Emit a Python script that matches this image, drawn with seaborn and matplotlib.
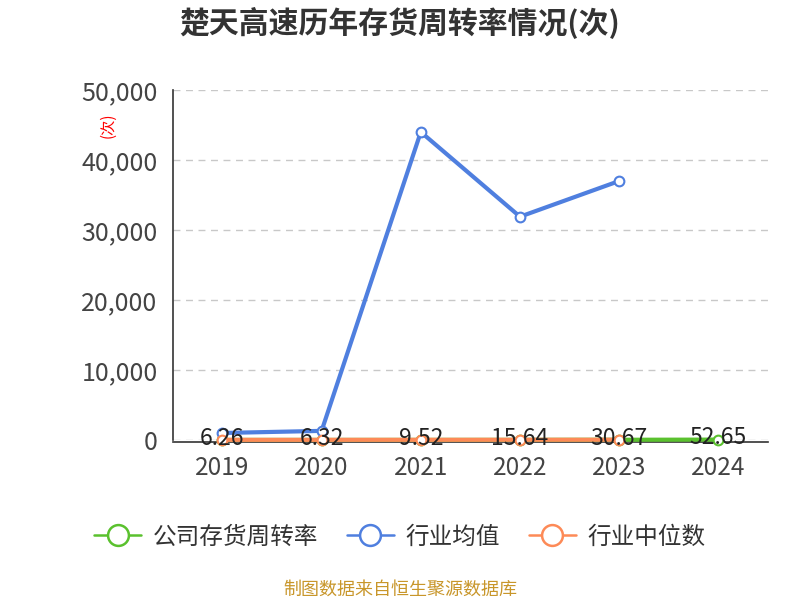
import matplotlib
matplotlib.use("Agg")
import matplotlib.pyplot as plt
import seaborn as sns
import pandas as pd
import numpy as np
from matplotlib.lines import Line2D

years = ["2019", "2020", "2021", "2022", "2023", "2024"]
company = [6.26, 6.32, 9.52, 15.64, 30.67, 52.65]
industry_avg = [1000, 1300, 44000, 31900, 37000, np.nan]
industry_median = [20, 22, 25, 30, 35, np.nan]
labels = ["6.26", "6.32", "9.52", "15.64", "30.67", "52.65"]
yticks = [0, 10000, 20000, 30000, 40000, 50000]

sns.set_theme(style="white")
plt.rcParams['font.family'] = ['Noto Sans CJK SC', 'DejaVu Sans']

green = "#5ac12e"
blue = "#4f7fdf"
orange = "#fd8a57"

fig = plt.figure(figsize=(8, 6), dpi=100)
ax = fig.add_axes([0.216, 0.2667, 0.744, 0.5833])

df = pd.DataFrame({"year": years, "company": company,
                   "avg": industry_avg, "median": industry_median})

for col, c, z in [("company", green, 3), ("avg", blue, 4), ("median", orange, 5)]:
    sns.lineplot(data=df, x="year", y=col, ax=ax, color=c, linewidth=3,
                 marker="o", markersize=7, markerfacecolor="white",
                 markeredgecolor=c, markeredgewidth=1.5, zorder=z, legend=False)
for ln in ax.lines:
    ln.set_clip_on(False)

for i, (v, t) in enumerate(zip(company, labels)):
    ax.text(i, v + 250, t, ha="center", va="center", fontsize=16.5,
            color="#222222", zorder=10)

ax.spines["bottom"].set_position(("outward", 1.5))
for s in ["top", "right"]:
    ax.spines[s].set_visible(False)
for s in ["left", "bottom"]:
    ax.spines[s].set_color("#333333")
    ax.spines[s].set_linewidth(1.2)
    ax.spines[s].set_zorder(2)

ax.set_xlim(-0.5, 5.5)
ax.set_ylim(0, 50000)
ax.set_yticks(yticks)
ax.set_yticklabels([f"{v:,}" for v in yticks], fontsize=18, color="#444444")
ax.set_xticks(range(len(years)))
ax.set_xticklabels(years, fontsize=17.5, color="#444444")
ax.set_xticks(np.arange(-0.5, 6.0, 1.0), minor=True)
ax.tick_params(axis="x", which="major", length=0, pad=9)
ax.tick_params(axis="x", which="minor", length=8, width=1.2, color="#333333", direction="out")
ax.tick_params(axis="y", length=7, width=1.2, color="#333333", direction="out", pad=4)
ax.set_xlabel("")
ax.set_ylabel("(次)", color="red", fontsize=11, rotation=90)
ax.yaxis.set_label_coords(-0.095, 0.9)

ax.grid(axis="y", linestyle=(0, (5, 4)), color="#c8c8c8", linewidth=1)

fig.text(0.5, 0.962, "楚天高速历年存货周转率情况(次)", ha="center", va="center",
         fontsize=21.5, fontweight="bold", color="#333333")

handles = [Line2D([0], [0], color=c, linewidth=1.8, marker="o", markersize=15,
                  markerfacecolor="white", markeredgecolor=c, markeredgewidth=1.8)
           for c in [green, blue, orange]]
fig.legend(handles, ["公司存货周转率", "行业均值", "行业中位数"], loc="center",
           bbox_to_anchor=(0.5, 0.105), ncol=3, frameon=False, fontsize=17,
           handlelength=2.0, columnspacing=1.2, handletextpad=0.5,
           labelcolor="#333333")

fig.text(0.5, 0.018, "制图数据来自恒生聚源数据库", ha="center", va="center",
         fontsize=13, color="#c8962a")

fig.savefig("out.png", dpi=100)
